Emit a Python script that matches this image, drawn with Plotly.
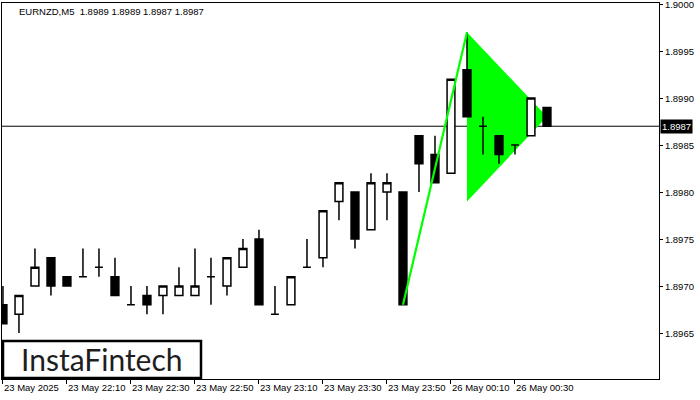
import plotly.graph_objects as go

# ---- data ----
bar_idx = list(range(35))
opens  = [1.8968, 1.8967, 1.8970, 1.8973, 1.8971, 1.8971, 1.8972, 1.8971, 1.8968, 1.8969,
          1.8969, 1.8969, 1.8969, 1.8971, 1.8970, 1.8972, 1.8975, 1.8967, 1.8968, 1.8972,
          1.8973, 1.8979, 1.8980, 1.8976, 1.8980, 1.8980, 1.8986, 1.8984, 1.8982, 1.8993,
          1.8987, 1.8986, 1.8985, 1.8986, 1.8989]
highs  = [1.8970, 1.8969, 1.8974, 1.8973, 1.8971, 1.8974, 1.8974, 1.8973, 1.8970, 1.8970,
          1.8970, 1.8972, 1.8974, 1.8973, 1.8973, 1.8975, 1.8976, 1.8970, 1.8971, 1.8975,
          1.8978, 1.8981, 1.8980, 1.8982, 1.8982, 1.8980, 1.8986, 1.8986, 1.8992, 1.8997,
          1.8988, 1.8986, 1.8985, 1.8990, 1.8989]
lows   = [1.8966, 1.8965, 1.8970, 1.8969, 1.8970, 1.8971, 1.8971, 1.8969, 1.8968, 1.8967,
          1.8967, 1.8969, 1.8969, 1.8968, 1.8969, 1.8972, 1.8968, 1.8967, 1.8968, 1.8972,
          1.8972, 1.8977, 1.8974, 1.8976, 1.8977, 1.8968, 1.8980, 1.8981, 1.8982, 1.8988,
          1.8984, 1.8983, 1.8984, 1.8986, 1.8987]
closes = [1.8966, 1.8969, 1.8972, 1.8970, 1.8970, 1.8971, 1.8972, 1.8969, 1.8968, 1.8968,
          1.8970, 1.8970, 1.8970, 1.8971, 1.8973, 1.8974, 1.8968, 1.8967, 1.8971, 1.8972,
          1.8978, 1.8981, 1.8975, 1.8981, 1.8981, 1.8968, 1.8983, 1.8981, 1.8992, 1.8988,
          1.8987, 1.8984, 1.8985, 1.8990, 1.8987]

tick_idx = [0, 4, 8, 12, 16, 20, 24, 28, 32]
tick_labels = ["23 May 2025", "23 May 22:10", "23 May 22:30", "23 May 22:50",
               "23 May 23:10", "23 May 23:30", "23 May 23:50", "26 May 00:10", "26 May 00:30"]

price_ticks = [1.8965, 1.8970, 1.8975, 1.8980, 1.8985, 1.8990, 1.8995, 1.9000]
current_price = 1.8987

pole_x = [25, 29]
pole_y = [1.8968, 1.8997]
pennant_x = [29, 34, 29]
pennant_y = [1.8997, 1.8988, 1.8979]

title_text = "EURNZD,M5\u00a0\u00a01.8989 1.8989 1.8987 1.8987"
logo_text = "InstaFintech"

# ---- figure ----
W, H = 700, 400
ML, MR, MT, MB = 2, 41, 3, 21
pw, ph = W - ML - MR, H - MT - MB

def px_x(x):
    return (x - ML) / pw

def px_y(y):
    return (H - MB - y) / ph

fig = go.Figure()

fig.add_trace(go.Candlestick(
    x=bar_idx, open=opens, high=highs, low=lows, close=closes,
    increasing=dict(fillcolor="white", line=dict(color="black", width=1.5)),
    decreasing=dict(fillcolor="black", line=dict(color="black", width=1.5)),
    whiskerwidth=0, hoverinfo="skip",
))

fig.add_trace(go.Scatter(
    x=pole_x, y=pole_y, mode="lines",
    line=dict(color="#00FF00", width=2.2), hoverinfo="skip",
))

path = "M " + " L ".join(f"{x},{y}" for x, y in zip(pennant_x, pennant_y)) + " Z"
shapes = [
    dict(type="path", path=path, xref="x", yref="y", fillcolor="#00FF00",
         line=dict(width=0), layer="below"),
    dict(type="line", xref="paper", yref="y", x0=0, x1=1, y0=current_price, y1=current_price,
         line=dict(color="black", width=1), layer="below"),
    dict(type="rect", xref="paper", yref="paper",
         x0=px_x(3), x1=px_x(201), y0=px_y(378), y1=px_y(341),
         fillcolor="white", line=dict(color="black", width=2.5), layer="above"),
]

annotations = [
    dict(text=title_text, xref="paper", yref="paper", x=px_x(17), y=px_y(12),
         xanchor="left", yanchor="middle", showarrow=False,
         font=dict(family="Liberation Sans", size=9.5, color="black")),
    dict(text=logo_text, xref="paper", yref="paper", x=px_x(102), y=px_y(359),
         xanchor="center", yanchor="middle", showarrow=False,
         font=dict(family="Lato", size=30, color="#1e1e1e")),
    dict(text="1.8987", xref="paper", yref="y", x=1, y=current_price,
         xanchor="left", yanchor="middle", showarrow=False, xshift=1,
         bgcolor="black", borderpad=1,
         font=dict(family="Liberation Sans", size=9.5, color="white")),
]

fig.update_layout(
    width=W, height=H,
    margin=dict(l=ML, r=MR, t=MT, b=MB),
    paper_bgcolor="white", plot_bgcolor="white",
    showlegend=False,
    shapes=shapes, annotations=annotations,
    font=dict(family="Liberation Sans", size=9.5, color="black"),
)

fig.update_xaxes(
    range=[-0.06, 41], showgrid=False, zeroline=False, automargin=False,
    showline=True, linecolor="black", linewidth=1, mirror=True,
    tickmode="array", tickvals=tick_idx, ticktext=tick_labels,
    ticks="outside", ticklen=4, tickcolor="black", tickangle=0,
    ticklabelposition="outside right",
    rangeslider=dict(visible=False),
    tickfont=dict(family="Liberation Sans", size=9.5, color="black"),
)

fig.update_yaxes(
    range=[1.896011, 1.900011], side="right", showgrid=False, zeroline=False,
    automargin=False,
    showline=True, linecolor="black", linewidth=1, mirror=True,
    tickmode="array", tickvals=price_ticks, tickformat=".4f",
    ticks="outside", ticklen=3, tickcolor="black",
    ticklabeloverflow="allow", ticklabelshift=1,
    tickfont=dict(family="Liberation Sans", size=9.5, color="black"),
)

fig.write_html(
    "out.html",
    config={"displayModeBar": False},
    post_script="document.body.style.margin='0';document.body.style.overflow='hidden';",
)
